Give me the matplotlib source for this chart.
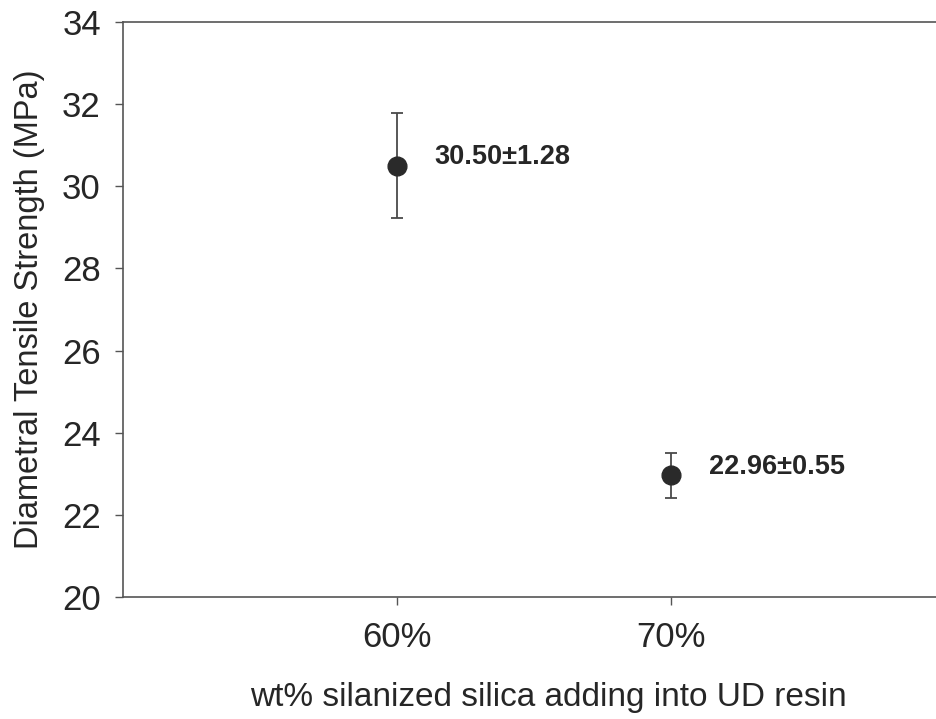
import matplotlib
matplotlib.use("Agg")
import matplotlib.pyplot as plt

# Data
silica_wt = [60, 70]
silica_labels = ["60%", "70%"]
dts_mean = [30.50, 22.96]
dts_sd = [1.28, 0.55]
value_labels = ["30.50\u00b11.28", "22.96\u00b10.55"]

plt.rcParams["font.family"] = ["Liberation Sans", "DejaVu Sans"]
text_color = "#262626"
axis_color = "#555555"

fig = plt.figure(figsize=(9.37, 7.19), dpi=100)
ax = fig.add_axes([0.1313, 0.1697, 0.8687, 0.7997])

ax.errorbar(silica_wt, dts_mean, yerr=dts_sd, fmt="o", color="#2a2a2a",
            markersize=13.5, ecolor="#4a4a4a", elinewidth=1.3,
            capsize=4.5, capthick=1.3, zorder=3)

# value labels to the right of each point
for x, y, lab in zip(silica_wt, dts_mean, value_labels):
    ax.annotate(lab, (x, y), xytext=(27, 6), textcoords="offset points",
                ha="left", va="center", fontsize=19.5, fontweight="bold",
                color=text_color)

ax.set_xlim(50, 79.7)
ax.set_ylim(20, 34)
ax.set_xticks(silica_wt)
ax.set_xticklabels(silica_labels)
ax.set_yticks(range(20, 35, 2))

ax.spines["right"].set_visible(False)
for side in ["left", "top", "bottom"]:
    ax.spines[side].set_color(axis_color)
    ax.spines[side].set_linewidth(1.2)

ax.tick_params(axis="both", direction="out", length=6, width=1.0,
               color=axis_color, labelsize=25, labelcolor=text_color)
ax.tick_params(axis="x", pad=11)
ax.tick_params(axis="y", pad=10)

ax.set_xlabel("wt% silanized silica adding into UD resin", fontsize=24,
              color=text_color)
ax.xaxis.set_label_coords(0.522, -0.148)
ax.set_ylabel("Diametral Tensile Strength (MPa)", fontsize=23.5,
              color=text_color, labelpad=12)

fig.savefig("out.png", dpi=100, facecolor="white")
